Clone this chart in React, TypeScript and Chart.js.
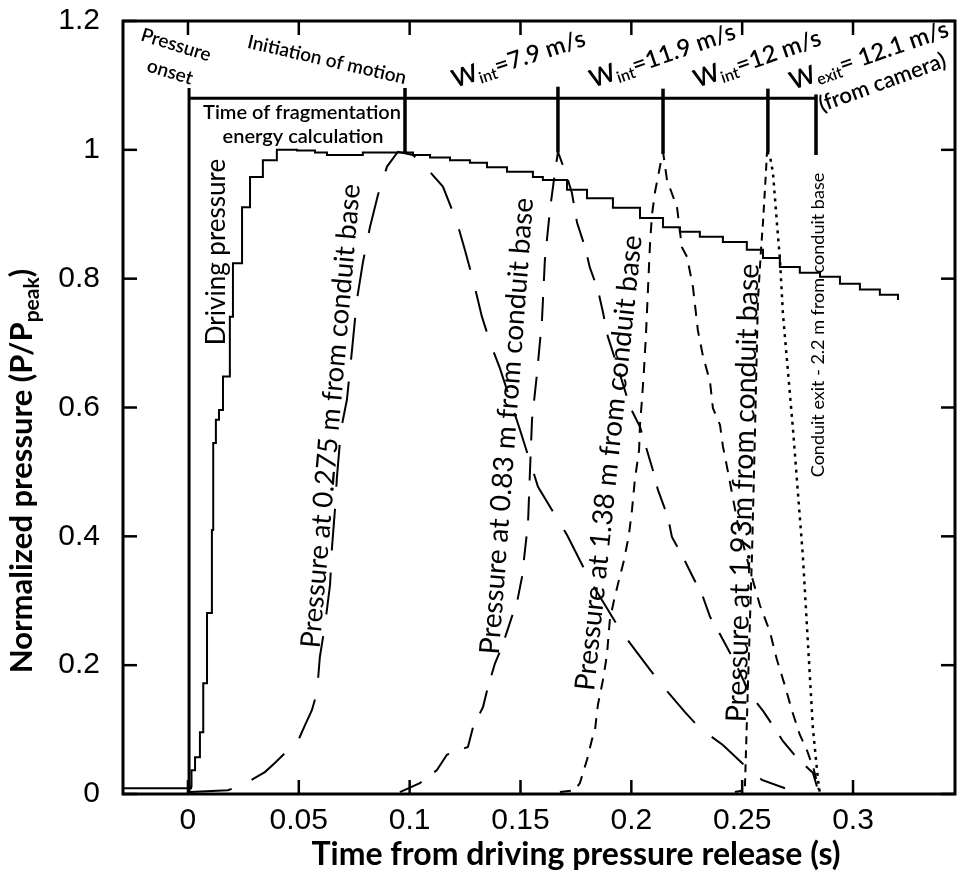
import React, { useEffect, useRef } from "react";
import { Chart, registerables } from "chart.js";

Chart.register(...registerables);

// ---- axes ----
const xRange = [-0.0293, 0.346];
const yRange = [0, 1.2];
const xTickValues = [0, 0.05, 0.1, 0.15, 0.2, 0.25, 0.3];
const yTickValues = [0, 0.2, 0.4, 0.6, 0.8, 1, 1.2];

// ---- driving pressure (solid) ----
const drivingTime = [-0.0293, 0.0005, 0.0014, 0.0016, 0.0032, 0.0054, 0.0069, 0.0086, 0.0108, 0.0114, 0.0126, 0.014, 0.0158, 0.0189, 0.0203, 0.0244, 0.028, 0.0338, 0.0401, 0.0492, 0.0573, 0.0627, 0.065, 0.0789, 0.0943, 0.1015, 0.1092, 0.1182, 0.1272, 0.1349, 0.1439, 0.1556, 0.1601, 0.171, 0.18, 0.1917, 0.2039, 0.2143, 0.2219, 0.2309, 0.2413, 0.2521, 0.2594, 0.267, 0.276, 0.2851, 0.2941, 0.3031, 0.3121, 0.3203];
const drivingP = [0.009, 0.009, 0.012, 0.037, 0.057, 0.096, 0.172, 0.281, 0.41, 0.545, 0.581, 0.596, 0.648, 0.741, 0.824, 0.911, 0.958, 0.984, 1.0, 0.999, 0.996, 0.992, 0.992, 0.996, 0.996, 0.992, 0.988, 0.984, 0.98, 0.973, 0.966, 0.958, 0.953, 0.938, 0.925, 0.91, 0.894, 0.88, 0.873, 0.865, 0.857, 0.845, 0.832, 0.818, 0.809, 0.803, 0.792, 0.783, 0.775, 0.767];

// ---- pressure at 0.275 m ----
const p0275Time = [0.0009, 0.018, 0.0235, 0.0302, 0.0347, 0.0392, 0.0442, 0.0492, 0.0528, 0.0559, 0.0582, 0.0595, 0.0618, 0.0641, 0.065, 0.0663, 0.0672, 0.069, 0.0717, 0.074, 0.0762, 0.0789, 0.0821, 0.0857, 0.0898, 0.0947, 0.1015, 0.1083, 0.115, 0.1213, 0.1249, 0.1286, 0.1326, 0.1367, 0.1407, 0.1498, 0.1579, 0.1642, 0.171, 0.1813, 0.1949, 0.2016, 0.2084, 0.2165, 0.2242, 0.2309, 0.2413, 0.2499, 0.2589, 0.2693];
const p0275P = [0.003, 0.006, 0.012, 0.025, 0.034, 0.048, 0.065, 0.079, 0.107, 0.13, 0.158, 0.213, 0.262, 0.325, 0.384, 0.441, 0.492, 0.565, 0.612, 0.689, 0.767, 0.825, 0.88, 0.93, 0.974, 0.997, 0.992, 0.969, 0.943, 0.888, 0.845, 0.798, 0.741, 0.697, 0.661, 0.565, 0.477, 0.441, 0.402, 0.332, 0.255, 0.224, 0.193, 0.158, 0.127, 0.102, 0.076, 0.048, 0.022, 0.009];

// ---- pressure at 0.83 m ----
const p083Time = [0.0956, 0.1046, 0.1123, 0.1168, 0.1263, 0.1286, 0.1331, 0.1353, 0.1385, 0.1416, 0.1461, 0.1484, 0.1507, 0.1534, 0.1543, 0.1552, 0.1574, 0.1597, 0.161, 0.1633, 0.1655, 0.1669, 0.171, 0.1732, 0.1755, 0.1791, 0.1813, 0.1849, 0.1872, 0.1894, 0.1949, 0.1994, 0.2039, 0.2097, 0.212, 0.2165, 0.2183, 0.2233, 0.2273, 0.2323, 0.2355, 0.24, 0.2467, 0.2535, 0.2594, 0.2639, 0.2684, 0.2747, 0.2819, 0.2842];
const p083P = [0.003, 0.017, 0.037, 0.061, 0.073, 0.104, 0.135, 0.166, 0.203, 0.228, 0.275, 0.297, 0.337, 0.421, 0.503, 0.581, 0.651, 0.736, 0.829, 0.907, 0.964, 0.997, 0.958, 0.933, 0.887, 0.849, 0.817, 0.783, 0.748, 0.71, 0.651, 0.601, 0.57, 0.503, 0.472, 0.43, 0.399, 0.368, 0.34, 0.306, 0.275, 0.248, 0.205, 0.155, 0.129, 0.106, 0.082, 0.056, 0.033, 0.006];

// ---- pressure at 1.38 m ----
const p138Time = [0.1678, 0.1746, 0.1768, 0.18, 0.1822, 0.1836, 0.1849, 0.1872, 0.189, 0.1903, 0.1922, 0.1944, 0.1967, 0.1989, 0.2003, 0.2016, 0.2035, 0.2039, 0.2048, 0.2057, 0.2066, 0.2075, 0.2084, 0.2093, 0.2107, 0.2129, 0.2143, 0.2161, 0.2206, 0.2228, 0.2251, 0.2278, 0.23, 0.2323, 0.2355, 0.2368, 0.24, 0.2413, 0.2436, 0.2481, 0.2535, 0.258, 0.2625, 0.2657, 0.2693, 0.2724, 0.276, 0.2792, 0.2824, 0.2846];
const p138P = [0.003, 0.006, 0.017, 0.053, 0.084, 0.099, 0.138, 0.177, 0.216, 0.27, 0.301, 0.332, 0.363, 0.402, 0.441, 0.488, 0.534, 0.573, 0.612, 0.658, 0.713, 0.783, 0.852, 0.899, 0.935, 0.974, 0.997, 0.953, 0.911, 0.849, 0.834, 0.787, 0.72, 0.68, 0.64, 0.599, 0.573, 0.54, 0.5, 0.418, 0.348, 0.293, 0.252, 0.208, 0.168, 0.13, 0.092, 0.068, 0.037, 0.006];

// ---- pressure at 1.93 m ----
const p193RiseTime = [0.2467, 0.2512, 0.2526, 0.2544, 0.2558, 0.2571, 0.2585, 0.2594, 0.2607, 0.2612];
const p193RiseP = [0.003, 0.006, 0.169, 0.368, 0.567, 0.766, 0.845, 0.888, 0.964, 0.997];
const p193FallTime = [0.2612, 0.2625, 0.2639, 0.2657, 0.267, 0.2684, 0.2729, 0.2774, 0.2819, 0.2842, 0.2851];
const p193FallP = [0.997, 0.991, 0.964, 0.885, 0.832, 0.745, 0.567, 0.368, 0.102, 0.022, 0.0];

// ---- event markers ----
const onsetTime = 0.0005;
const onsetTop = 1.096;
const fragLineLevel = 1.08;
const fragLineEnd = 0.2833;
const markerTimes = [0.0979, 0.1669, 0.2143, 0.2616, 0.2833];
const markerTops = [1.096, 1.098, 1.095, 1.095, 1.086];
const markerBottoms = [0.994, 0.996, 0.994, 0.996, 0.992];

const F = "Lato, 'Open Sans', sans-serif";

function rtext(ctx: CanvasRenderingContext2D, s: string, x: number, y: number, deg: number, font: string) {
  ctx.save();
  ctx.translate(x, y);
  ctx.rotate((deg * Math.PI) / 180);
  ctx.font = font;
  ctx.textAlign = "center";
  ctx.textBaseline = "middle";
  ctx.fillText(s, 0, 0);
  ctx.restore();
}

type Part = { text: string; font: string; dy?: number };
function rich(ctx: CanvasRenderingContext2D, parts: Part[], x: number, y: number, deg: number, center = false) {
  ctx.save();
  ctx.translate(x, y);
  ctx.rotate((deg * Math.PI) / 180);
  ctx.textAlign = "left";
  ctx.textBaseline = "alphabetic";
  let total = 0;
  for (const p of parts) {
    ctx.font = p.font;
    total += ctx.measureText(p.text).width;
  }
  let cx = center ? -total / 2 : 0;
  for (const p of parts) {
    ctx.font = p.font;
    ctx.fillText(p.text, cx, p.dy || 0);
    cx += ctx.measureText(p.text).width;
  }
  ctx.restore();
}

const decorPlugin = {
  id: "decor",
  afterDraw(chart: any) {
    const ctx: CanvasRenderingContext2D = chart.ctx;
    const { left, right, top, bottom } = chart.chartArea;
    const xs = chart.scales.x;
    const ys = chart.scales.y;
    ctx.save();
    ctx.fillStyle = "#000";
    ctx.strokeStyle = "#000";
    ctx.setLineDash([]);
    // frame
    ctx.lineWidth = 3;
    ctx.strokeRect(left, top, right - left, bottom - top);
    // inward ticks on all sides
    ctx.lineWidth = 2.5;
    const tl = 14;
    const seg = (a: number, b: number, c: number, d: number) => {
      ctx.beginPath();
      ctx.moveTo(a, b);
      ctx.lineTo(c, d);
      ctx.stroke();
    };
    xTickValues.forEach((v) => {
      const px = xs.getPixelForValue(v);
      seg(px, bottom, px, bottom - tl);
      seg(px, top, px, top + tl);
    });
    yTickValues.forEach((v) => {
      const py = ys.getPixelForValue(v);
      seg(left, py, left + tl, py);
      seg(right, py, right - tl, py);
    });

    // axis titles
    const tf = `700 32px ${F}`;
    rich(ctx, [{ text: "Time from driving pressure release (s)", font: tf }], 576, 865, 0, true);
    rich(
      ctx,
      [
        { text: "Normalized pressure (P/P", font: `700 31px ${F}` },
        { text: "peak", font: `700 21px ${F}`, dy: 7 },
        { text: ")", font: `700 31px ${F}` },
      ],
      32,
      471,
      -90,
      true
    );

    // annotations
    const sb = (n: number) => `600 ${n}px ${F}`;
    const rg = (n: number) => `400 ${n}px ${F}`;
    rtext(ctx, "Pressure", 176, 45, 17, sb(19));
    rtext(ctx, "onset", 170, 72, 17, sb(19));
    rtext(ctx, "Initiation of motion", 327, 60, 13, sb(19));
    rtext(ctx, "Time of fragmentation", 302, 113, 0, sb(20));
    rtext(ctx, "energy calculation", 303, 137, 0, sb(20));

    rich(ctx, [
      { text: "W", font: sb(25) },
      { text: "int", font: sb(16), dy: 4 },
      { text: "=7.9 m/s", font: sb(24) },
    ], 455, 88, -18);
    rich(ctx, [
      { text: "W", font: sb(25) },
      { text: "int", font: sb(16), dy: 4 },
      { text: "=11.9 m/s", font: sb(24) },
    ], 593, 88, -19);
    rich(ctx, [
      { text: "W", font: sb(25) },
      { text: "int", font: sb(16), dy: 4 },
      { text: "=12 m/s", font: sb(24) },
    ], 697, 88, -19);
    rich(ctx, [
      { text: "W", font: sb(25) },
      { text: "exit", font: sb(16), dy: 4 },
      { text: "= 12.1 m/s", font: sb(24) },
    ], 793, 90, -19);
    rich(ctx, [{ text: "(from camera)", font: sb(22) }], 822, 112, -20);

    rtext(ctx, "Driving pressure", 217, 252, -90, rg(26));
    rtext(ctx, "Pressure at 0.275 m from conduit base", 331, 416, -85, rg(27.5));
    rtext(ctx, "Pressure at 0.83 m from conduit base", 507, 426, -85.7, rg(28));
    rtext(ctx, "Pressure at 1.38 m from conduit base", 609, 463, -84, rg(28));
    rtext(ctx, "Pressure at 1.93m from conduit base", 743, 493, -88.4, rg(28.5));
    rtext(ctx, "Conduit exit - 2.2 m from conduit base", 818, 325, -90, rg(18));
    ctx.restore();
  },
};

export default function App() {
  const ref = useRef<HTMLCanvasElement>(null);
  useEffect(() => {
    const canvas = ref.current!;
    const pts = (xs: number[], ys: number[]) => xs.map((x, i) => ({ x, y: ys[i] }));
    const mk = (data: any[], dash: number[], width = 2, extra: any = {}) => ({
      data,
      borderColor: "#000",
      backgroundColor: "#000",
      borderWidth: width,
      borderDash: dash,
      pointRadius: 0,
      fill: false,
      tension: 0,
      ...extra,
    });
    const datasets: any[] = [
      mk(pts(drivingTime, drivingP), [], 2, { stepped: "before" }),
      mk(pts(p0275Time, p0275P), [42, 22]),
      mk(pts(p083Time, p083P), [24, 16]),
      mk(pts(p138Time, p138P), [11, 9]),
      mk(pts(p193RiseTime, p193RiseP), [8, 6]),
      mk(pts(p193FallTime, p193FallP), [3, 5], 2.5),
      mk([{ x: onsetTime, y: 0 }, { x: onsetTime, y: onsetTop }], [], 3),
      mk([{ x: onsetTime, y: fragLineLevel }, { x: fragLineEnd, y: fragLineLevel }], [], 3),
      ...markerTimes.map((t, i) => mk([{ x: t, y: markerBottoms[i] }, { x: t, y: markerTops[i] }], [], 3.5)),
    ];
    const tickFont = { family: "'Liberation Sans', Arial, sans-serif", size: 30 };
    const chart = new Chart(canvas, {
      type: "line",
      data: { datasets },
      options: {
        animation: false,
        responsive: false,
        maintainAspectRatio: false,
        devicePixelRatio: 1,
        layout: { padding: { top: 21, right: 3, left: 0, bottom: 0 } },
        plugins: { legend: { display: false }, tooltip: { enabled: false } },
        scales: {
          x: {
            type: "linear",
            min: xRange[0],
            max: xRange[1],
            afterBuildTicks: (s: any) => {
              s.ticks = xTickValues.map((v) => ({ value: v }));
            },
            afterFit: (s: any) => {
              s.height = 85;
              s.paddingLeft = 0;
              s.paddingRight = 0;
            },
            grid: { display: false, drawTicks: false },
            border: { display: false },
            ticks: {
              font: tickFont,
              color: "#000",
              padding: 9,
              maxRotation: 0,
              autoSkip: false,
              callback: (v: any) => String(v),
            },
          },
          y: {
            type: "linear",
            min: yRange[0],
            max: yRange[1],
            afterBuildTicks: (s: any) => {
              s.ticks = yTickValues.map((v) => ({ value: v }));
            },
            afterFit: (s: any) => {
              s.width = 123;
              s.paddingTop = 0;
              s.paddingBottom = 0;
            },
            grid: { display: false, drawTicks: false },
            border: { display: false },
            ticks: {
              font: tickFont,
              color: "#000",
              padding: 23,
              autoSkip: false,
              callback: (v: any) => String(v),
            },
          },
        },
      } as any,
      plugins: [decorPlugin],
    });
    return () => chart.destroy();
  }, []);
  return (
    <div style={{ position: "absolute", left: 0, top: 0, width: 958, height: 879, background: "#fff" }}>
      <canvas ref={ref} width={958} height={879} style={{ width: 958, height: 879, display: "block" }} />
    </div>
  );
}
